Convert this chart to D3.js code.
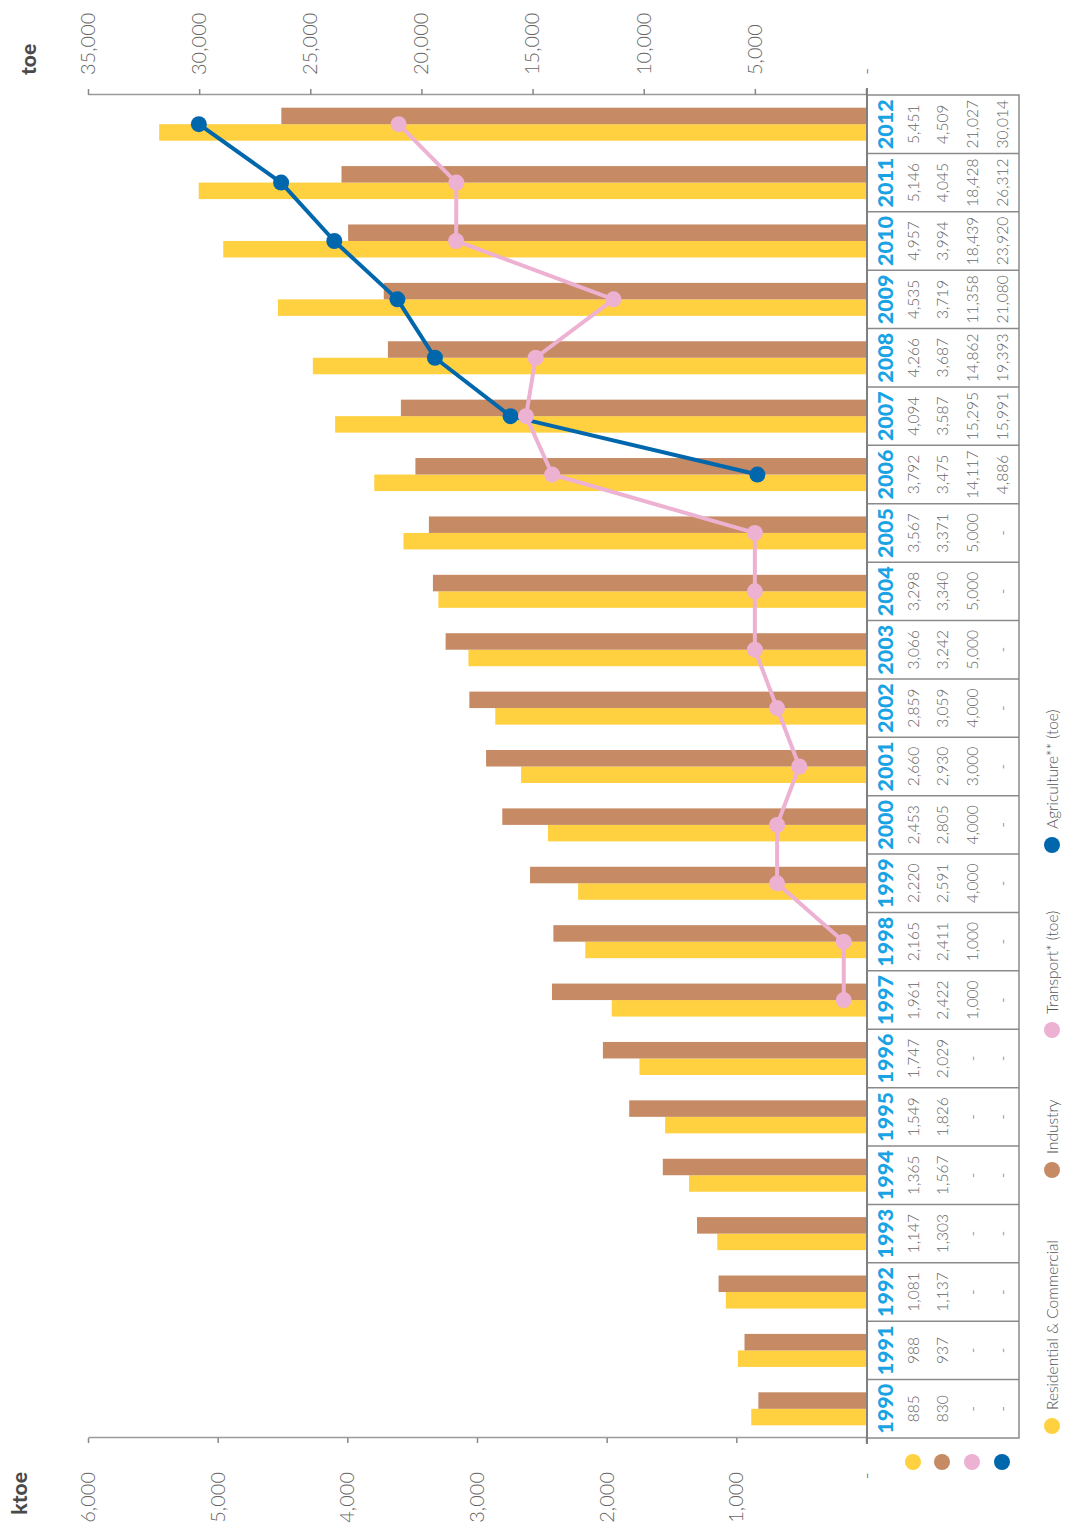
<!DOCTYPE html>
<html>
<head>
<meta charset="utf-8">
<script src="https://cdn.jsdelivr.net/npm/d3@7"></script>
<style>
  html, body { margin: 0; padding: 0; background: #fff; }
  svg { display: block; }
  text { font-family: Lato, "Open Sans", "DejaVu Sans", sans-serif; }
</style>
</head>
<body>
<svg id="chart" width="1068" height="1526"></svg>
<script>
// Energy consumption by sector, 1990-2012
const years = ["1990","1991","1992","1993","1994","1995","1996","1997","1998","1999","2000",
               "2001","2002","2003","2004","2005","2006","2007","2008","2009","2010","2011","2012"];

// ktoe (left axis, bars)
const residential = [885, 988, 1081, 1147, 1365, 1549, 1747, 1961, 2165, 2220, 2453,
                     2660, 2859, 3066, 3298, 3567, 3792, 4094, 4266, 4535, 4957, 5146, 5451];
const industry    = [830, 937, 1137, 1303, 1567, 1826, 2029, 2422, 2411, 2591, 2805,
                     2930, 3059, 3242, 3340, 3371, 3475, 3587, 3687, 3719, 3994, 4045, 4509];

// toe (right axis, lines); null = no data ("-")
const transport   = [null, null, null, null, null, null, null, 1000, 1000, 4000, 4000,
                     3000, 4000, 5000, 5000, 5000, 14117, 15295, 14862, 11358, 18439, 18428, 21027];
const agriculture = [null, null, null, null, null, null, null, null, null, null, null,
                     null, null, null, null, null, 4886, 15991, 19393, 21080, 23920, 26312, 30014];

const ktoeTicks = [0, 1000, 2000, 3000, 4000, 5000, 6000];
const toeTicks  = [0, 5000, 10000, 15000, 20000, 25000, 30000, 35000];

const seriesNames = ["Residential & Commercial", "Industry", "Transport* (toe)", "Agriculture** (toe)"];
const seriesColors = ["#FFD03F", "#C68A64", "#EDB1D2", "#0067AC"];

const svg = d3.select("#chart");

// The chart is laid out in a 1526 x 1068 frame and turned a quarter turn counter-clockwise.
const g = svg.append("g").attr("transform", "translate(0,1526) rotate(-90)");

const x = d3.scaleBand().domain(years).range([88, 1431]).padding(0);
const yK = d3.scaleLinear().domain([0, 6000]).range([866, 88]);
const yT = d3.scaleLinear().domain([0, 35000]).range([866, 88]);

const fmt = d3.format(",");
const tickFmt = d => d === 0 ? "-" : fmt(d);

const barW = 16.5;

// Bars
const groups = g.append("g").selectAll("g.year")
  .data(years).join("g")
  .attr("transform", d => `translate(${x(d) + x.bandwidth() / 2},0)`);

groups.append("rect")
  .attr("x", -barW)
  .attr("width", barW)
  .attr("y", (d, i) => yK(residential[i]))
  .attr("height", (d, i) => yK(0) - yK(residential[i]))
  .attr("fill", seriesColors[0]);

groups.append("rect")
  .attr("x", 0)
  .attr("width", barW)
  .attr("y", (d, i) => yK(industry[i]))
  .attr("height", (d, i) => yK(0) - yK(industry[i]))
  .attr("fill", seriesColors[1]);

// Left axis (ktoe)
const axL = g.append("g")
  .attr("transform", "translate(88,0)")
  .call(d3.axisLeft(yK).tickValues(ktoeTicks).tickFormat(tickFmt).tickSize(5).tickSizeOuter(0).tickPadding(29));
axL.select(".domain").attr("stroke", "#9a9a9a").attr("stroke-width", 1.5);
axL.selectAll(".tick line").attr("stroke", "#888").attr("stroke-width", 1.5);
axL.selectAll(".tick text")
  .attr("font-size", 20).attr("font-weight", 300).attr("fill", "#666")
  .style("font-family", "Lato, 'Open Sans', sans-serif");

g.append("text")
  .attr("x", 54).attr("y", 18)
  .attr("text-anchor", "end").attr("dominant-baseline", "central")
  .attr("font-size", 21).attr("font-weight", 900).attr("fill", "#4a4a4a")
  .text("ktoe");

// Right axis (toe)
const axR = g.append("g")
  .attr("transform", "translate(1431,0)")
  .call(d3.axisRight(yT).tickValues(toeTicks).tickFormat(tickFmt).tickSize(6).tickSizeOuter(0).tickPadding(14));
axR.select(".domain").attr("stroke", "#9a9a9a").attr("stroke-width", 1.5);
axR.selectAll(".tick line").attr("stroke", "#888").attr("stroke-width", 1.5);
axR.selectAll(".tick text")
  .attr("font-size", 20).attr("font-weight", 300).attr("fill", "#666")
  .style("font-family", "Lato, 'Open Sans', sans-serif");

g.append("text")
  .attr("x", 1451).attr("y", 27)
  .attr("text-anchor", "start").attr("dominant-baseline", "central")
  .attr("font-size", 21).attr("font-weight", 900).attr("fill", "#4a4a4a")
  .text("toe");

// Data table below the baseline
const tableTop = 867, tableBottom = 1019;
const rowY = [913, 942, 972, 1002];
const table = g.append("g");

table.append("rect")
  .attr("x", x.range()[0]).attr("y", tableTop)
  .attr("width", x.range()[1] - x.range()[0]).attr("height", tableBottom - tableTop)
  .attr("fill", "none").attr("stroke", "#8a8a8a").attr("stroke-width", 1.5);

table.selectAll("line.sep")
  .data(years.slice(1)).join("line")
  .attr("x1", d => x(d)).attr("x2", d => x(d))
  .attr("y1", tableTop).attr("y2", tableBottom)
  .attr("stroke", "#8a8a8a").attr("stroke-width", 1.5);

// Baseline / table top edge, running past both axes
g.append("line")
  .attr("x1", 82).attr("x2", 1438)
  .attr("y1", tableTop).attr("y2", tableTop)
  .attr("stroke", "#7f7f7f").attr("stroke-width", 2);

table.selectAll("text.year")
  .data(years).join("text")
  .attr("x", d => x(d) + x.bandwidth() / 2)
  .attr("y", 885)
  .attr("text-anchor", "middle").attr("dominant-baseline", "central")
  .attr("font-size", 21.5).attr("font-weight", 900).attr("fill", "#19A3E4")
  .text(d => d);

const rows = [residential, industry, transport, agriculture];
rows.forEach((vals, r) => {
  table.append("g").selectAll("text")
    .data(vals).join("text")
    .attr("x", (d, i) => x(years[i]) + x.bandwidth() / 2)
    .attr("y", rowY[r])
    .attr("text-anchor", "middle").attr("dominant-baseline", "central")
    .attr("font-size", 15.5).attr("font-weight", 300).attr("fill", "#666")
    .text(d => d == null ? "-" : fmt(d));
});

// Row keys beside the table
g.append("g").selectAll("circle")
  .data(seriesColors).join("circle")
  .attr("cx", 64).attr("cy", (d, i) => rowY[i]).attr("r", 8)
  .attr("fill", d => d);

// Lines (toe)
const line = d3.line()
  .defined(d => d.v != null)
  .x(d => x(d.year) + x.bandwidth() / 2)
  .y(d => yT(d.v));

function drawSeries(vals, color) {
  const pts = vals.map((v, i) => ({ year: years[i], v }));
  g.append("path")
    .datum(pts)
    .attr("d", line)
    .attr("fill", "none").attr("stroke", color).attr("stroke-width", 4)
    .attr("stroke-linejoin", "round");
  g.append("g").selectAll("circle")
    .data(pts.filter(p => p.v != null)).join("circle")
    .attr("cx", p => x(p.year) + x.bandwidth() / 2)
    .attr("cy", p => yT(p.v))
    .attr("r", 8)
    .attr("fill", color);
}
drawSeries(agriculture, seriesColors[3]);
drawSeries(transport, seriesColors[2]);

// Legend
const legendU = [100, 356, 496, 681];
const legend = g.append("g").selectAll("g")
  .data(seriesNames).join("g")
  .attr("transform", (d, i) => `translate(${legendU[i]},1052)`);
legend.append("circle").attr("r", 8).attr("fill", (d, i) => seriesColors[i]);
legend.append("text")
  .attr("x", 16).attr("dominant-baseline", "central")
  .attr("font-size", 15.5).attr("font-weight", 300).attr("fill", "#555")
  .text(d => d);
</script>
</body>
</html>
